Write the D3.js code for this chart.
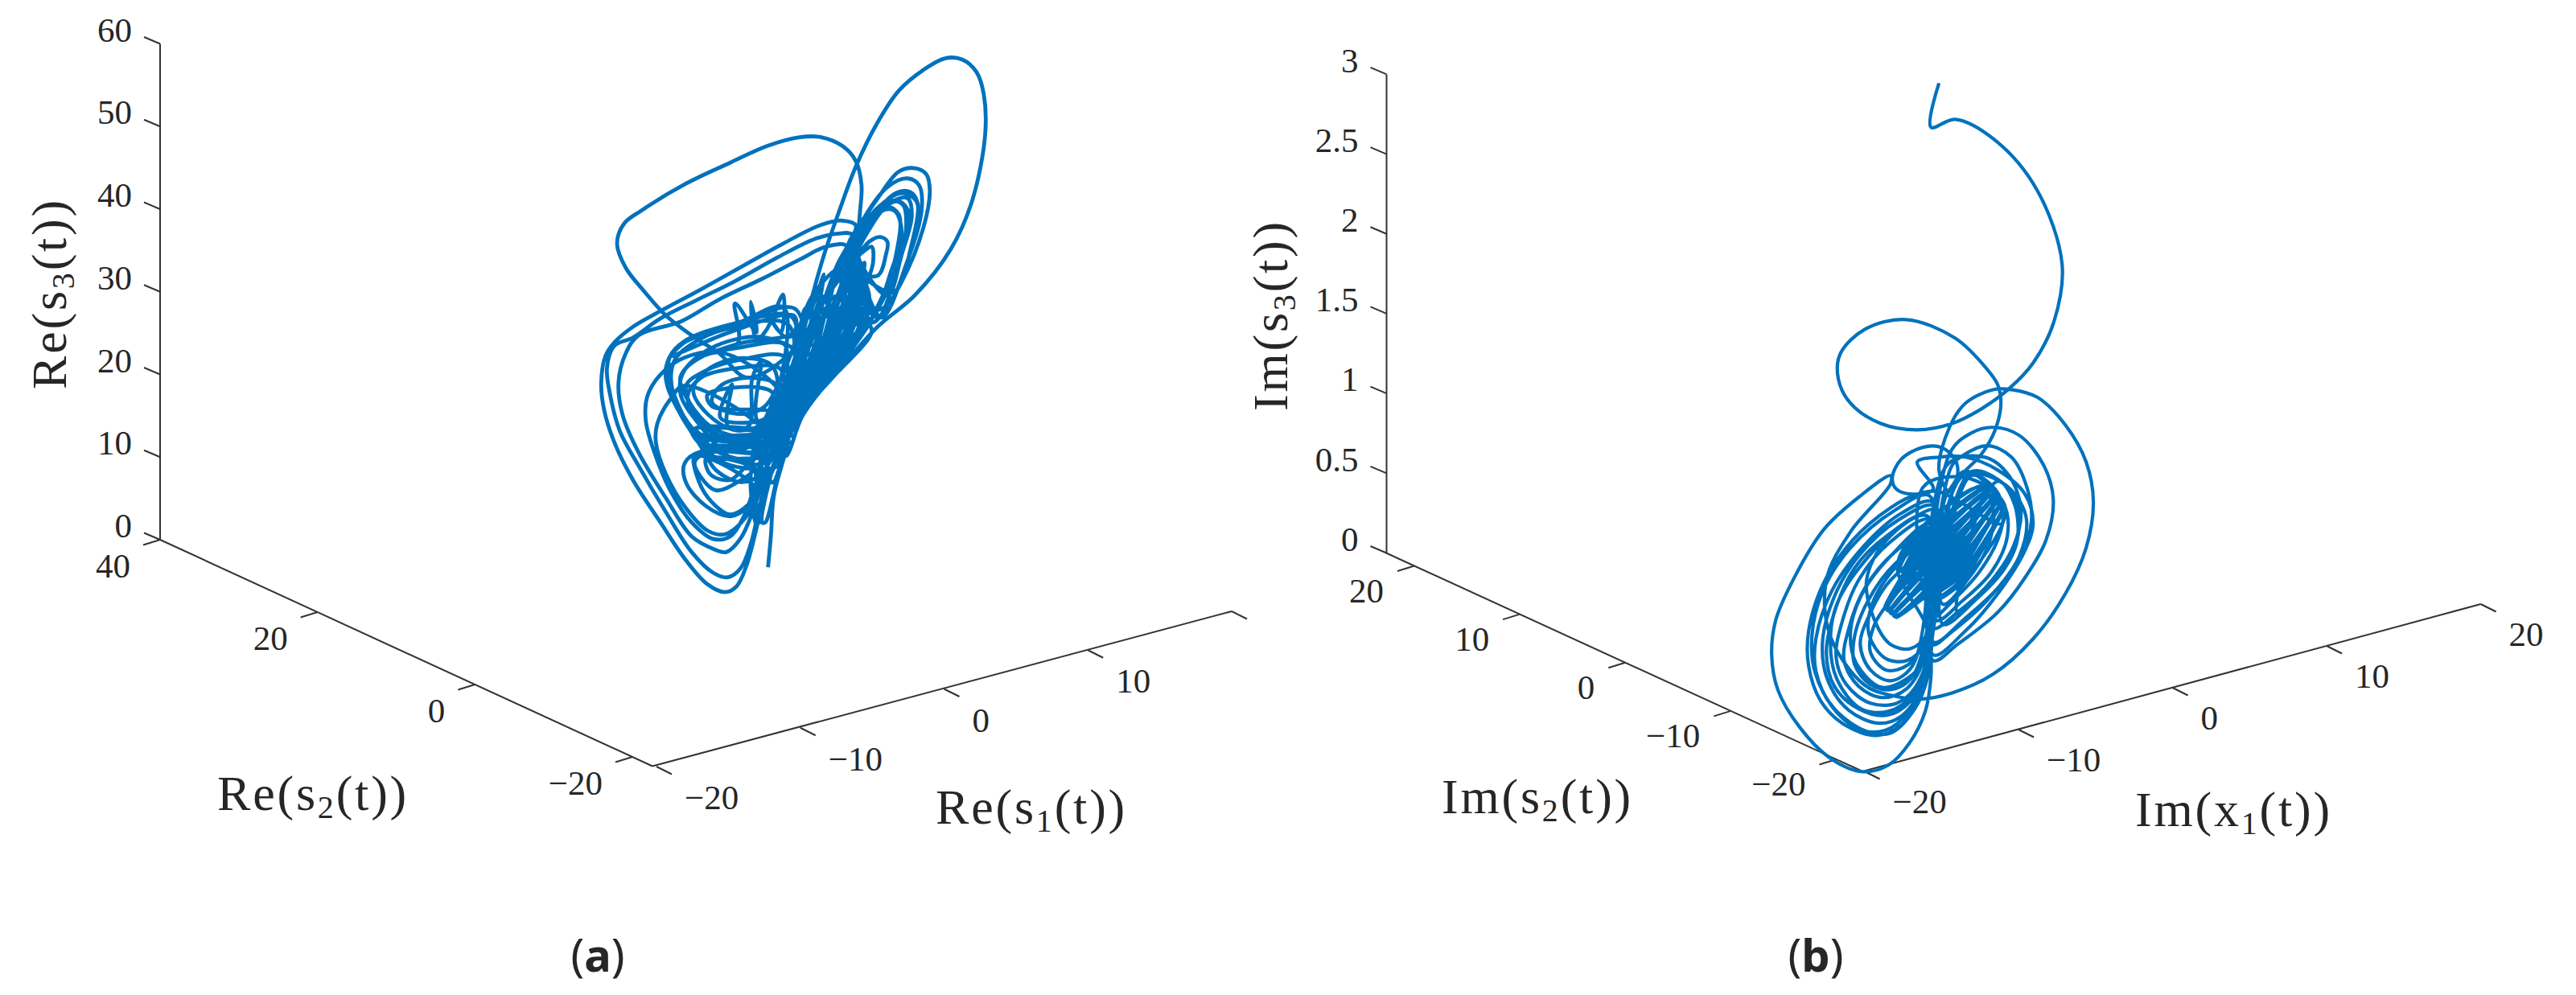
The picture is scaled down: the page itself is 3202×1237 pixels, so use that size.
<!DOCTYPE html>
<html>
<head>
<meta charset="utf-8">
<script src="https://cdn.jsdelivr.net/npm/d3@7"></script>
<style>
html, body { margin: 0; padding: 0; background: #fff; }
text { font-family: "Liberation Serif", serif; fill: #262626; }
</style>
</head>
<body>
<svg id="chart" width="3202" height="1237"></svg>
<script>
// ticks
var reS1Ticks = [-20, -10, 0, 10, 20];
var reS1Labels = ["\u221220", "\u221210", "0", "10", ""];
var reS2Ticks = [40, 20, 0, -20];
var reS2Labels = ["40", "20", "0", "\u221220"];
var reS3Ticks = [0, 10, 20, 30, 40, 50, 60];
var reS3Labels = ["0", "10", "20", "30", "40", "50", "60"];

var imS1Ticks = [-20, -10, 0, 10, 20];
var imS1Labels = ["\u221220", "\u221210", "0", "10", "20"];
var imS2Ticks = [20, 10, 0, -10, -20];
var imS2Labels = ["20", "10", "0", "\u221210", "\u221220"];
var imS3Ticks = [0, 0.5, 1, 1.5, 2, 2.5, 3];
var imS3Labels = ["0", "0.5", "1", "1.5", "2", "2.5", "3"];

// a single projection hides depth, so s2 is one estimated value per panel
// and the traces below are read as [s1, s3] pairs
var reS2Plane = 0;
var imS2Plane = -0.25;

// panel (a), Re parts, [s1, s3]
var reStartAndBigLoop = [[0.1,4.8],[0.3,8.5],[0.5,13.2],[1.2,17.5],[1.9,21.3],[4.7,25.8],[7.7,30.3],[10.3,32.9],[12.8,37.3],[14.3,42.5],[15.2,50.1],[15.1,55],[14.6,57.9],[13.6,59.9],[12.4,60.6],[10.9,59.9],[9.2,58.2],[7.7,55],[6.2,50.4],[5.1,45.8],[4,40.8],[3.2,36.3],[2.5,31.8],[1.3,26.2],[-0.1,19.1],[0.4,14.9],[1.8,21.1],[4.9,32.3],[6.2,40.4]];
var reTopLeftLoop = [[6.5,44.9],[6.6,48],[6.2,51.1],[5.3,53.3],[3.8,55.1],[2.3,55.8],[0,55.8],[-2.5,55],[-5.6,53.9],[-8.7,52.1],[-9.9,51.1],[-10.4,48.9],[-9.8,45.7],[-8.5,42.2],[-7,38.6],[-5,35],[-3.3,32.3],[-1.3,28.4],[2.7,31.4],[4.9,39.1]];
var reLeftLoopOuter = [[6.2,43.3],[5.3,44.3],[3.8,44.5],[1.2,43.5],[-1.8,42],[-4.6,40.6],[-7.4,39.3],[-9.3,38.3],[-10.6,37],[-11.2,35.7],[-11.5,32.5],[-11.3,29.2],[-10.6,25],[-9.3,19.8],[-7.4,13.8],[-5.6,8.3],[-4.1,4.7],[-2.9,3.2],[-2.1,3.5],[-1.4,5.7],[-0.7,9.9],[0,14.8],[1.2,18.8],[2.7,23.6],[4.3,32.5]];
var reLeftLoopMiddle = [[6,42.2],[4.9,42.9],[3.4,43],[0.8,42],[-2.2,40.5],[-5,39.4],[-7.4,38.4],[-9.3,37],[-10.6,36.6],[-11.1,34.2],[-10.9,31],[-10.2,26.1],[-8.9,21.3],[-7,14.8],[-5.2,9.1],[-3.7,5.9],[-2.7,4.9],[-1.8,5.6],[-1.1,8.2],[-0.3,13.6],[0.8,18.3],[2.7,25.5]];
var reLeftLoopInner = [[5.6,41],[4.2,41.7],[2.3,41],[-0.3,39.9],[-3.3,38.8],[-5.9,37.4],[-8.9,37.1],[-9.8,35.3],[-10.3,32],[-10,27.9],[-8.9,22.9],[-7,16.5],[-5.2,11],[-3.7,8.8],[-2.8,8],[-1.8,9.2],[-0.9,12.3],[0,16.8],[1.3,24.3]];
var reMidLoop = [[-2.9,32.1],[-5.7,32.9],[-7.4,31.6],[-8.3,29.4],[-8.4,26.5],[-7.8,22.4],[-6.7,17.3],[-5.2,12.7],[-3.7,10],[-2.5,9.8],[-1.6,11.7],[-0.9,14.6],[0.4,19.8]];
var reMidLoopTwo = [[-5.7,29.5],[-6.7,28.3],[-7.6,25.8],[-7.7,23.6],[-7,19.4],[-5.6,14.6],[-4.1,11.2],[-2.9,10.2],[-1.5,11.5],[-0.7,14.5]];
var reMidLoopThree = [[-5,20.7],[-4.7,17.4],[-3.8,14.5],[-2.5,12.4],[-0.9,13.6],[-0.4,16.8]];
var reSpiral = [[1.2,35.7],[-1.8,35.4],[-4.6,35.1],[-6.3,34.3],[-7,32.3],[-6.9,30],[-6,26.2],[-4.6,21.7],[-3.5,18.2],[-1.8,16],[-0.4,16.3],[1.3,21.3],[2.7,28.5],[-0.1,32.7],[-3.5,33.3],[-5.7,31.4],[-6,28.7],[-4.6,24.1],[-2.9,20.4],[-0.7,20.3],[0.7,24.5],[0.4,29],[-1.8,31],[-4.1,30.7],[-5.1,28.7],[-4.1,25.3],[-2.1,22.4],[-0.1,22.5],[0.7,26.5],[-1.3,28.4],[-3.2,28.3],[-3.8,26.6],[-2.1,24.4],[-0.1,24.4]];
var reSpiralArcs = [[1.3,31.1],[-1.8,32.3],[-4.6,32.4],[-6,30.6],[-5.2,26.8],[-3.5,23.1],[-0.1,21],[1.3,29.6],[-1.8,30.8],[-4.3,30.6],[-5.6,29.4],[-4.7,25.1],[-2.9,21.9],[0.4,21.7],[1,28.3],[-2.1,29.9],[-4.6,29.9],[-5.5,27.9],[-4.1,23.4],[-1.3,20.1],[0.7,20.6],[1.55,33.4],[-2.9,35],[-5.2,34.3],[-6.4,32.9],[-6.6,29.9],[-5.5,25],[-3.5,20.7],[-0.1,17.6],[1.8,34.2],[-2.7,35.3],[-5.7,34.9],[-6.75,33.4],[-6.75,30.9],[-5.7,25.6],[-4.1,21.4],[-0.7,18.4]];
var reSpiralStreaks = [[0.4,25.8],[-4.1,27.7],[-3.8,26.1],[0.15,23.6],[-0.25,22.8],[-3.2,24.4],[-2.4,28.1],[-2.7,23.2],[-1.25,22.5],[-1,28.2],[-0.4,29.9],[-0.6,22.7]];
var reSolidBand = [[1.8,20.6],[-4.9,24],[-4.6,23.1],[1.8,19.9],[1.8,19.2],[-4.5,22.4],[-4.3,21.5],[1.55,18.6],[1.3,18],[-4.2,20.8],[-3.8,19.9],[1,17.4],[0.7,16.7],[-2.9,18.8]];
var reLowerLoops = [[-5.2,23.9],[0.4,20.8],[-4.9,22.8],[0.4,19.3],[-4.6,21.7],[-0.4,18.7],[-4.6,21],[-5.7,20.1],[-5.6,17.7],[-4.2,14.2],[-2.5,12.2],[-1.1,13],[-0.3,15],[-0.1,18.1],[-4.3,20.6],[-5,19.9],[-4.6,18],[-3.5,15.8],[-2,16.1],[-0.9,17.2],[-4.2,20],[-3.9,17.9],[-2.5,16.6],[-1,18]];
var reCoreLong = [[-0.8,10.6],[-1.1,16.6],[0,22.9],[1.7,29.9],[3.1,36],[4.9,38.6],[5.2,38.4],[4.1,35.6],[2.7,29.4],[0.5,22.65],[-0.6,16.4],[-0.6,10.6],[-0.5,10.5],[-0.1,16.2],[1.1,22.4],[3.7,28.9],[5.1,35.1],[5.6,38.3],[5.9,38.1],[6.1,34.6],[4.7,28.5],[1.6,22.15],[0.3,15.9],[-0.3,10.4],[-0.1,10.3],[0.8,15.7],[2.1,21.9],[5.75,28],[7.15,34.1],[6.3,37.9]];
var reCoreShort = [[6.6,34.4],[5.2,28.2],[1.8,22],[1.3,22.3],[4.2,28.7],[5.6,34.85],[4.6,35.3],[3.2,29.2],[0.8,22.5],[0.3,22.8],[2.2,29.65],[3.6,35.8],[3.3,35.9],[1.9,29.8],[2.5,29.5],[3.9,35.7],[4.35,35.5],[2.9,29.3],[3.5,29.05],[4.9,35.2],[5.4,35],[3.95,28.8],[4.5,28.6],[5.9,34.7],[6.4,34.5],[5,28.4],[5.5,28.1],[6.9,34.25]];
var reCoreFill = [[-1,18.8],[0,23.2],[2.05,28.76],[2.7,34.9],[3.1,34.74],[2.3,28.6],[0.2,23.1],[-0.8,18.7],[-0.6,18.6],[0.4,23],[2.6,28.5],[3.5,34.55],[3.9,34.37],[2.9,28.36],[0.6,22.9],[-0.4,18.5],[-0.2,18.4],[0.8,22.8],[3.2,28.2],[4.3,34.18],[4.7,33.97],[3.4,28.1],[1,22.7],[0,18.35],[0.2,18.25],[1.2,22.63],[3.7,28],[5.1,33.8],[5.5,33.6],[4,27.86],[1.4,22.5],[0.4,18.16],[0.6,18.06],[1.7,22.4],[4.2,27.73],[5.9,33.4],[6.3,33.2],[4.5,27.6],[1.9,22.3],[0.8,17.98],[1,17.9],[2.05,22.2],[4.7,27.5],[6.8,33],[7.15,32.84],[5,27.36],[2.3,22.1],[1.15,17.8],[1.4,17.7],[2.5,22],[5.3,27.2],[7.5,32.66],[5.5,33.6],[5.5,39.8],[5.9,39.6],[4.6,34],[3.8,34.4],[6.4,39.4]];
var reCoreUpper = [[4.25,33.1],[5.25,39.4],[5.6,39.3],[4.9,32.8],[5.6,32.4],[5.9,39.1],[6.25,38.9],[6.25,32.1],[6.9,31.8],[6.4,37.4],[6.8,35.3],[7.15,31.2]];
var reRightLobes = [[7.5,31],[9.4,35],[10.9,40.8],[11.35,45.1],[11.1,47.2],[10.3,48.3],[9.2,48.4],[7.7,45.8],[6.4,42.9],[5.1,38.3],[4.2,34.8],[8.1,32.4],[9.95,38],[10.8,43.4],[10.6,46.1],[9.8,47.3],[8.4,46.9],[6.8,44],[5.6,40],[8.8,34],[10.1,39.3],[10.5,44],[9.95,45.6],[9,45.9],[7.5,44],[6.2,40.7],[8.4,33.8],[9.4,38.3],[10.1,42.7],[9.8,44.9],[8.8,45],[7.15,42.9],[6,39.8],[6.6,30.5],[8.1,34],[9,38.4],[9.2,43.2],[8.4,44.5],[7.15,42.4],[6.1,38.5],[7.3,32.1],[8.7,35.4],[9.4,38.9],[9.95,42.8],[9.2,44.8],[7.7,44.1],[6.4,40.3],[8,31.3],[9.7,36.9],[10.5,41.8],[10.4,44.3],[9.4,45.7],[7.7,44.6],[6.3,40.4],[7.7,31.4],[9.1,36.6],[9.7,41.2],[9.5,44.2],[8.55,45.2],[7.15,43.9],[5.75,39.7],[7.4,32.1],[8.7,36.8],[9.4,40.9],[8.9,43.8],[8,44.2],[6.7,42.1],[5.5,38.8],[7.7,36.5],[8.3,38.8],[8.4,40.3],[7.9,41.1],[7.15,40.9],[6.4,39.6],[7.3,40.2],[7.4,38.2],[7,36.1],[6.4,33.5],[6.8,38.5],[6.3,36.9]];
var reLowerRightBand = [[1.7,20.4],[2.5,23],[4.7,25.8],[7.3,29.9],[7,31.1],[4.5,27.4],[2.2,24.6],[1.4,20.8],[1.1,22.4],[4.1,28.8],[6.6,32.3],[6.1,33.6],[3.3,30.1]];
var reSpikes = [[1.9,35.3],[-1.8,35.4],[-5.2,35.1],[-6.7,33.5],[-5.7,33.7],[-2.5,34.5],[1.9,34.4],[1.9,32.4],[-1.8,32.8],[-4.1,32.6],[-2,32.9],[-2.2,37.8],[-0.7,33.6],[-1.1,37.5],[-0.7,32.7],[0,33.6],[1.15,37.3],[1,32.8],[0.15,35.2],[1.4,32],[2.7,33.3],[4,38.4],[3.5,33.9]];

// panel (b), Im parts, [s1, s3]
var imStartSpiral = [[0.07,3.113],[-0.45,2.85],[1.11,2.859],[3.78,2.653],[6.44,2.275],[8.06,1.77],[7.54,1.425],[6.18,1.199],[4.62,1.079],[2.84,1],[0.96,0.958],[-1.34,0.977],[-3.74,1.081],[-5.68,1.258],[-6.46,1.429],[-6.35,1.582],[-4.74,1.696],[-2.07,1.687],[1.11,1.488],[3.25,1.23],[3.88,1.123],[4.09,1.002],[3.72,0.845],[2.84,0.717],[1.48,0.616],[0.75,0.534]];
var imBigRightLoop = [[0.07,0.688],[0.75,0.938],[1.79,1.062],[3.57,1.1],[4.77,1.069],[6.49,0.974],[8.27,0.756],[9.62,0.489],[10.09,0.225],[9.62,-0.05],[8.27,-0.303],[6.18,-0.53],[3.57,-0.684],[0.96,-0.731],[-1.13,-0.716],[-3.07,-0.641],[-4.79,-0.53],[-6.98,-0.17],[-7.24,0.19],[-5.68,0.451],[-3.07,0.685]];
var imBigLeftLoop = [[-3.07,0.735],[-5.15,0.654],[-7.4,0.512],[-9.33,0.259],[-10.53,0.024],[-10.79,-0.186],[-10.38,-0.418],[-8.97,-0.687],[-7.09,-0.923],[-5,-1.069],[-3.22,-1.075],[-1.86,-0.974],[-0.82,-0.801],[-0.45,-0.593],[-0.45,-0.391],[-0.3,-0.229],[0.07,0.099],[0.43,0.493]];
var imSmallLoop = [[1.27,0.622],[1.11,0.727],[0.22,0.826],[-0.98,0.858],[-2.39,0.819],[-2.96,0.718],[-2.7,0.641],[-1.66,0.582],[-0.3,0.578]];
var imRightLoopOuter = [[-1.34,0.776],[0.07,0.769],[1.79,0.724],[3.88,0.588],[5.65,0.391],[6.18,0.191],[5.65,0.038],[3.88,-0.188],[1.79,-0.365],[-0.3,-0.461]];
var imRightLoopTwo = [[0.75,0.771],[2.16,0.865],[3.57,0.864],[5.29,0.768],[6.86,0.541],[7.49,0.308],[7.02,0.068],[5.65,-0.133],[3.88,-0.304],[1.27,-0.436],[-0.3,-0.496]];
var imRightLoopThree = [[0.85,0.684],[1.63,0.738],[3.2,0.758],[4.77,0.646],[5.81,0.418],[6.07,0.209],[5.39,0.01],[3.88,-0.152],[1.79,-0.284],[-0.3,-0.38]];
var imRightLoopFour = [[0.59,0.706],[3.04,0.691],[4.61,0.534],[5.39,0.297],[4.92,0.088],[3.2,-0.119],[1.27,-0.235],[-0.3,-0.294]];
var imRightLoopFive = [[1.63,0.612],[4.25,0.494],[5.71,0.253],[5.29,0.012],[3.2,-0.21],[0.85,-0.35],[-0.3,-0.395]];
var imRightLoopSix = [[2.16,0.623],[4.77,0.429],[5.29,0.214],[4.51,-0.017],[2.42,-0.189],[0.33,-0.286]];
var imRightLoopSeven = [[1.63,0.637],[4.25,0.368],[4.51,0.159],[3.47,-0.041],[1.63,-0.169],[-0.19,-0.247]];
var imTopArc = [[-0.98,0.606],[1.63,0.602],[3.62,0.449],[4.14,0.245]];
var imLeftLoopA = [[0.07,0.552],[-1.34,0.574],[-3.07,0.534],[-5.52,0.397],[-7.4,0.179],[-8.39,-0.098],[-8.39,-0.319],[-7.61,-0.557],[-6.04,-0.749],[-3.95,-0.87],[-2.39,-0.844],[-1.13,-0.691],[-0.61,-0.554],[-0.3,-0.194]];
var imLeftLoopB = [[-0.3,0.497],[-2.39,0.481],[-4.79,0.342],[-6.88,0.114],[-7.92,-0.16],[-7.92,-0.362],[-6.88,-0.611],[-5.15,-0.797],[-3.43,-0.852],[-1.86,-0.773],[-0.82,-0.599],[-0.19,-0.096]];
var imLeftLoopC = [[0.07,0.436],[-2.18,0.41],[-4.79,0.241],[-6.56,0.021],[-6.98,-0.205],[-6.56,-0.448],[-5,-0.675],[-3.22,-0.738],[-1.66,-0.678],[-0.61,-0.473]];
var imLeftLoopD = [[-0.45,0.365],[-3.07,0.231],[-5,0.03],[-5.68,-0.189],[-5.31,-0.38],[-3.74,-0.572],[-2.39,-0.577],[-0.82,-0.468]];
var imLeftLoopE = [[-0.45,0.279],[-2.7,0.157],[-4.27,-0.039],[-4.48,-0.221],[-3.43,-0.399],[-2.02,-0.451],[-0.82,-0.367]];
var imLeftLoopF = [[-0.56,0.544],[-2.8,0.511],[-5.68,0.351],[-7.5,0.121],[-8.18,-0.139],[-7.97,-0.371],[-6.72,-0.63],[-4.63,-0.827],[-3.06,-0.878],[-1.5,-0.767],[-0.66,-0.588],[-0.35,-0.193]];
var imLeftLoopG = [[-0.19,0.469],[-2.54,0.445],[-5.15,0.286],[-6.82,0.053],[-7.5,-0.206],[-7.14,-0.443],[-5.78,-0.665],[-3.85,-0.796],[-2.44,-0.793],[-1.08,-0.652],[-0.45,-0.391]];
var imLeftLoopH = [[-0.72,0.422],[-3.33,0.364],[-5.41,0.218],[-6.72,-0.026],[-7.24,-0.264],[-6.72,-0.489],[-5.15,-0.671],[-3.33,-0.76],[-1.76,-0.71],[-0.72,-0.535]];
var imLeftLoopI = [[-0.45,0.39],[-3.07,0.322],[-5.15,0.135],[-6.19,-0.09],[-6.61,-0.306],[-5.94,-0.499],[-4.37,-0.657],[-2.54,-0.699],[-0.98,-0.554]];
var imLeftLoopJ = [[-0.19,0.333],[-2.8,0.249],[-4.74,0.074],[-5.78,-0.151],[-6.09,-0.344],[-5.15,-0.53],[-3.59,-0.642],[-2.02,-0.627],[-0.87,-0.456]];
var imLeftLoopK = [[-0.45,0.264],[-2.8,0.174],[-4.52,-0.008],[-5.41,-0.211],[-5.41,-0.387],[-4.37,-0.541],[-2.96,-0.607],[-1.5,-0.541]];
var imLeftLoopL = [[-0.72,0.17],[-3.07,0.08],[-4.37,-0.088],[-5.04,-0.271],[-4.37,-0.45],[-3.07,-0.55],[-1.6,-0.487]];
var imLeftLoopM = [[-0.98,0.076],[-3.07,-0.046],[-4.21,-0.192],[-4.37,-0.34],[-3.33,-0.477],[-1.92,-0.479],[-0.87,-0.355]];
var imRightInner = [[2.16,0.598],[3.72,0.473],[4.25,0.307],[3.88,0.15],[2.68,-0.02],[1.11,-0.145],[-0.3,-0.229],[3.88,0.518],[4.92,0.36],[5.18,0.131],[4.61,-0.005],[3.04,-0.146],[1.27,-0.235],[3.2,0.47],[3.62,0.308],[3.2,0.118],[1.9,-0.05],[0.33,-0.16]];
var imLeftStreaks = [[-0.72,0.422],[-3.33,0.339],[-4.63,0.121],[-4.11,-0.144],[-3.07,-0.323],[-1.76,-0.382],[-0.72,-0.309]];
var imCore = [[-2.64,0.15],[-1.39,0.335],[2.75,0.517],[2.86,0.504],[-1.16,0.309],[-2.46,0.133],[-2.29,0.113],[-0.92,0.283],[2.98,0.491],[3.1,0.478],[-0.69,0.257],[-2.1,0.094],[-3.42,-0.082],[-0.45,0.231],[3.21,0.465],[3.33,0.452],[-0.22,0.204],[-3.3,-0.095],[-3.19,-0.108],[0.02,0.178],[3.45,0.439],[3.57,0.426],[0.25,0.152],[-3.07,-0.121],[-2.95,-0.134],[0.49,0.126],[3.68,0.413],[3.8,0.4],[0.72,0.1],[-2.83,-0.147],[-2.72,-0.16],[0.96,0.074],[3.92,0.387],[4.04,0.374],[1.19,0.048],[-0.7,-0.063],[-0.52,-0.082],[1.43,0.022],[4.15,0.36],[4.27,0.347],[1.66,-0.004],[-0.35,-0.102],[-0.17,-0.122],[1.9,-0.031],[4.39,0.334]];
var imCoreFill = [[2.8,0.511],[-1.28,0.322],[-2.55,0.143],[-2.37,0.123],[-1.04,0.296],[2.92,0.498],[3.04,0.484],[-0.81,0.27],[-2.2,0.103],[-3.48,-0.076],[-0.57,0.244],[3.16,0.471],[3.27,0.458],[-0.34,0.218],[-3.36,-0.089],[-3.24,-0.102],[-0.1,0.191],[3.39,0.445],[3.51,0.432],[0.13,0.165],[-3.12,-0.115],[-3.01,-0.128],[0.37,0.139],[3.63,0.419],[3.74,0.406],[0.6,0.113],[-2.89,-0.141],[-2.77,-0.154],[0.84,0.087],[3.86,0.393],[3.98,0.38],[1.07,0.061],[-2.65,-0.167],[-0.61,-0.072],[1.31,0.035],[4.1,0.367],[4.21,0.354],[1.54,0.008],[-0.44,-0.092],[-0.26,-0.112],[1.78,-0.018],[4.33,0.341]];

var reTrace = [].concat(reStartAndBigLoop, reTopLeftLoop, reLeftLoopOuter, reLeftLoopMiddle, reLeftLoopInner, reMidLoop, reMidLoopTwo, reMidLoopThree, reSpiral, reSpiralArcs, reSpiralStreaks, reSolidBand, reLowerLoops, reCoreLong, reCoreShort, reCoreFill, reCoreUpper, reRightLobes, reLowerRightBand, reSpikes);
var imTrace = [].concat(imStartSpiral, imBigRightLoop, imBigLeftLoop, imSmallLoop, imRightLoopOuter, imRightLoopTwo, imRightLoopThree, imRightLoopFour, imRightLoopFive, imRightLoopSix, imRightLoopSeven, imTopArc, imLeftLoopA, imLeftLoopF, imLeftLoopB, imLeftLoopG, imLeftLoopC, imLeftLoopH, imLeftLoopI, imLeftLoopD, imLeftLoopJ, imLeftLoopK, imLeftLoopE, imLeftLoopL, imLeftLoopM, imRightInner, imLeftStreaks, imCore, imCoreFill);

var lineColor = "#0072BD";
var axisColor = "#333";
var svg = d3.select("#chart");

var panels = [
  {
    trace: reTrace, plane: reS2Plane, width: 4.8,
    s1x: d3.scaleLinear().domain([-20, 20]).range([816, 1531]),
    s1y: d3.scaleLinear().domain([-20, 20]).range([953, 760]),
    s2x: d3.scaleLinear().domain([40, -20]).range([199, 786]),
    s2y: d3.scaleLinear().domain([40, -20]).range([671, 941]),
    s3x: 199,
    s3y: d3.scaleLinear().domain([0, 60]).range([671, 54.5]),
    s2Back: 40, s2Front: -22.55,
    s1Ticks: reS1Ticks, s1Labels: reS1Labels,
    s2Ticks: reS2Ticks, s2Labels: reS2Labels,
    s3Ticks: reS3Ticks, s3Labels: reS3Labels,
    s1Off: [35, 39], s2Off: [-37, 33],
    zLabel: {x: 82, y: 365, first: "Re(s", sub: "3"},
    yLabel: {x: 270, y: 1007, first: "Re(s", sub: "2"},
    xLabel: {x: 1163, y: 1024, first: "Re(s", sub: "1"},
    caption: {x: 743, letter: "a"}
  },
  {
    trace: imTrace, plane: imS2Plane, width: 4.2,
    s1x: d3.scaleLinear().domain([-20, 20]).range([2317.6, 3083.6]),
    s1y: d3.scaleLinear().domain([-20, 20]).range([959, 751]),
    s2x: d3.scaleLinear().domain([20, -20]).range([1758, 2282.5]),
    s2y: d3.scaleLinear().domain([20, -20]).range([703.5, 944]),
    s3x: 1723.5,
    s3y: d3.scaleLinear().domain([0, 3]).range([687.5, 92.4]),
    s2Back: 22.7, s2Front: -22.5,
    s1Ticks: imS1Ticks, s1Labels: imS1Labels,
    s2Ticks: imS2Ticks, s2Labels: imS2Labels,
    s3Ticks: imS3Ticks, s3Labels: imS3Labels,
    s1Off: [35, 38], s2Off: [-38, 31],
    zLabel: {x: 1600, y: 392, first: "Im(s", sub: "3"},
    yLabel: {x: 1792, y: 1011, first: "Im(s", sub: "2"},
    xLabel: {x: 2654, y: 1027, first: "Im(x", sub: "1"},
    caption: {x: 2257, letter: "b"}
  }
];

function axisLabel(g, o, rotate) {
  var t = g.append("text")
    .attr("font-size", 62)
    .style("letter-spacing", "2.8px")
    .attr("transform", rotate ? "translate(" + o.x + "," + o.y + ") rotate(-90)" : "translate(" + o.x + "," + o.y + ")")
    .attr("text-anchor", rotate ? "middle" : "start");
  t.append("tspan").text(o.first);
  t.append("tspan").attr("font-size", 40).attr("dy", 10).text(o.sub);
  t.append("tspan").attr("dy", -10).text("(t))");
}

panels.forEach(function(p) {
  var g = svg.append("g");
  var frontX = p.s2x(p.s2Front), frontY = p.s2y(p.s2Front);

  // bottom edges and vertical edge
  g.append("line")
    .attr("x1", frontX).attr("y1", frontY)
    .attr("x2", p.s1x(20)).attr("y2", p.s1y(20))
    .attr("stroke", axisColor).attr("stroke-width", 2);
  g.append("line")
    .attr("x1", p.s2x(p.s2Back)).attr("y1", p.s2y(p.s2Back))
    .attr("x2", frontX).attr("y2", frontY)
    .attr("stroke", axisColor).attr("stroke-width", 2);
  g.append("line")
    .attr("x1", p.s3x).attr("y1", p.s3y(p.s3Ticks[0]))
    .attr("x2", p.s3x).attr("y2", p.s3y(p.s3Ticks[p.s3Ticks.length - 1]))
    .attr("stroke", axisColor).attr("stroke-width", 2);

  // s3 ticks
  g.selectAll(".z-tick").data(p.s3Ticks).enter().append("line")
    .attr("class", "z-tick")
    .attr("x1", p.s3x).attr("y1", p.s3y)
    .attr("x2", p.s3x - 20).attr("y2", function(d) { return p.s3y(d) - 8.5; })
    .attr("stroke", axisColor).attr("stroke-width", 2);
  g.selectAll(".z-label").data(p.s3Ticks).enter().append("text")
    .attr("class", "z-label")
    .attr("x", p.s3x - 35)
    .attr("y", function(d) { return p.s3y(d) - 17; })
    .attr("dy", "0.33em")
    .attr("text-anchor", "end")
    .attr("font-size", 43)
    .text(function(d, i) { return p.s3Labels[i]; });

  // s2 ticks
  g.selectAll(".y-tick").data(p.s2Ticks).enter().append("line")
    .attr("class", "y-tick")
    .attr("x1", p.s2x).attr("y1", p.s2y)
    .attr("x2", function(d) { return p.s2x(d) - 21; })
    .attr("y2", function(d) { return p.s2y(d) + 6.5; })
    .attr("stroke", axisColor).attr("stroke-width", 2);
  g.selectAll(".y-label").data(p.s2Ticks).enter().append("text")
    .attr("class", "y-label")
    .attr("x", function(d) { return p.s2x(d) + p.s2Off[0]; })
    .attr("y", function(d) { return p.s2y(d) + p.s2Off[1]; })
    .attr("dy", "0.33em")
    .attr("text-anchor", "end")
    .attr("font-size", 43)
    .text(function(d, i) { return p.s2Labels[i]; });

  // s1 ticks
  g.selectAll(".x-tick").data(p.s1Ticks).enter().append("line")
    .attr("class", "x-tick")
    .attr("x1", p.s1x).attr("y1", p.s1y)
    .attr("x2", function(d) { return p.s1x(d) + 19; })
    .attr("y2", function(d) { return p.s1y(d) + 9.5; })
    .attr("stroke", axisColor).attr("stroke-width", 2);
  g.selectAll(".x-label").data(p.s1Ticks).enter().append("text")
    .attr("class", "x-label")
    .attr("x", function(d) { return p.s1x(d) + p.s1Off[0]; })
    .attr("y", function(d) { return p.s1y(d) + p.s1Off[1]; })
    .attr("dy", "0.33em")
    .attr("font-size", 43)
    .text(function(d, i) { return p.s1Labels[i]; });

  // the trace
  var line = d3.line()
    .x(function(d) { return p.s1x(d[0]) + p.s2x(p.plane) - frontX; })
    .y(function(d) { return p.s1y(d[0]) + p.s2y(p.plane) - frontY + p.s3y(d[1]) - p.s3y(0); })
    .curve(d3.curveCatmullRom.alpha(0.5));
  g.append("path")
    .attr("d", line(p.trace))
    .attr("fill", "none")
    .attr("stroke", lineColor)
    .attr("stroke-width", p.width)
    .attr("stroke-linejoin", "round");

  axisLabel(g, p.zLabel, true);
  axisLabel(g, p.yLabel, false);
  axisLabel(g, p.xLabel, false);

  var cap = g.append("text")
    .attr("x", p.caption.x).attr("y", 1208)
    .attr("text-anchor", "middle")
    .attr("font-size", 56)
    .style("font-family", '"Noto Sans", sans-serif');
  cap.append("tspan").text("(");
  cap.append("tspan").attr("font-weight", 700).text(p.caption.letter);
  cap.append("tspan").text(")");
});
</script>
</body>
</html>
